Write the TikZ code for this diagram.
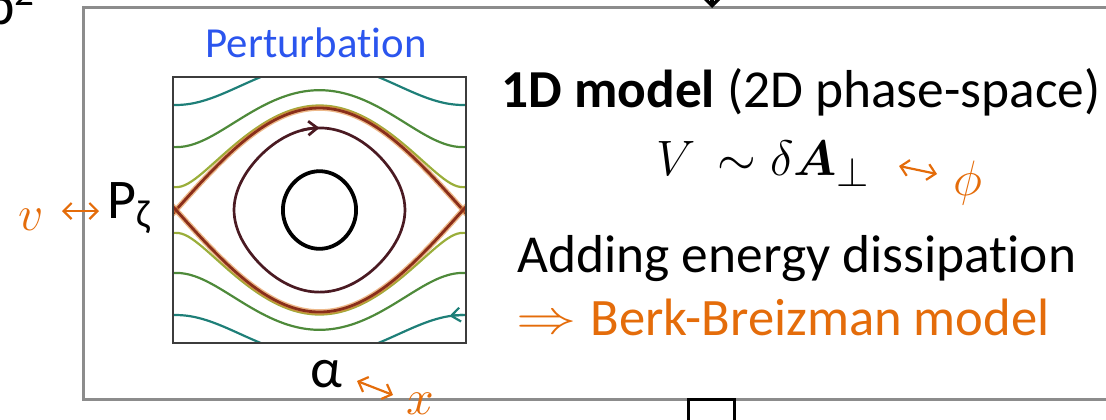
\documentclass[tikz,border=0pt]{standalone}
\usepackage{amsmath}
\usepackage{graphicx}
\usepackage{fontspec}
\setmainfont{Carlito}[Ligatures=NoCommon]
\usepackage{tikz}
\usetikzlibrary{arrows.meta, positioning, calc}
\definecolor{cFrame}{HTML}{8C8C8C}
\definecolor{cBox}{HTML}{3C3C3C}
\definecolor{cOrange}{HTML}{E46C0A}
\definecolor{cBlue}{HTML}{2B55EE}
\definecolor{cSep}{HTML}{8A2E1A}
\definecolor{cSepGlow}{HTML}{E0883A}
\definecolor{cOrbit}{HTML}{4A1A22}
\definecolor{cGreen}{HTML}{4E8A3A}
\definecolor{cYell}{HTML}{9AAE3A}
\definecolor{cTeal}{HTML}{1E7F78}
\tikzstyle{slideframe} = [draw=cFrame, line width=1.5pt]
\tikzstyle{plotbox}    = [draw=cBox, line width=1.1pt]
\tikzstyle{sepx}       = [draw=cSep, line width=1.4pt, preaction={draw=cSepGlow, line width=2.8pt, opacity=0.6}]
\tikzstyle{orbitline}  = [draw=cOrbit, line width=1.35pt]
\tikzstyle{coreline}   = [draw=black, line width=1.9pt]
\tikzstyle{passing}    = [line width=1.1pt]
\tikzstyle{flowtip}    = [-{Straight Barb[length=4.5pt,width=7pt]}]
\tikzstyle{lbl}        = [inner sep=0pt, font=\fontsize{28}{30}\selectfont]
\tikzstyle{olbl}       = [lbl, text=cOrange]
\tikzstyle{txt}        = [inner sep=0pt, font=\fontsize{26.7}{30}\selectfont]
\tikzstyle{orarrow}    = [draw=cOrange, line width=1.1pt, {Straight Barb[length=4pt,width=8pt]}-{Straight Barb[length=4pt,width=8pt]}]
\newcommand{\pcx}{319.5}
\newcommand{\pcy}{210}

\begin{document}
\begin{tikzpicture}[x=0.5pt, y=-0.5pt]
\useasboundingbox (0,0) rectangle (1106,419);
\clip (0,0) rectangle (1106,419);

% slide frame and neighbours
\draw [slideframe] (83,7) rectangle (1160,399);
\coordinate (in-top) at (712,-60);
\coordinate (fr-top) at (712,8);
\draw [line width=1.6pt, -{Straight Barb[length=5pt,width=10pt]}] (in-top) -- (fr-top);
\node (nextbox) [draw=black, line width=1.6pt, minimum width=23pt, minimum height=40pt, inner sep=0pt, anchor=north] at (711.5,398) {};
\node (bsq) [lbl, anchor=base east] at (36,24) {b\textsuperscript{2}};

% phase-space plot
\coordinate (ps-tl) at (173,77);
\coordinate (ps-br) at (466,343);
\begin{scope}
\clip (ps-tl) rectangle (ps-br);
\foreach \E/\col in {1.10/cYell, 1.76/cGreen, 3.12/cTeal} {
  \draw [passing, draw=\col] plot[domain=-190:190, samples=90, smooth] ({\pcx+0.7972*\x}, {\pcy-51*sqrt(2*(\E+cos(\x)))});
  \draw [passing, draw=\col] plot[domain=-190:190, samples=90, smooth] ({\pcx+0.7972*\x}, {\pcy+51*sqrt(2*(\E+cos(\x)))});
}
\draw [passing, draw=cTeal, flowtip] plot[domain=180:163, samples=6] ({\pcx+0.7972*\x}, {\pcy+51*sqrt(2*(3.12+cos(\x)))});
\draw [sepx] plot[domain=-188:188, samples=100, smooth] ({\pcx+0.7972*\x}, {\pcy-102*cos(\x/2)});
\draw [sepx] plot[domain=-188:188, samples=100, smooth] ({\pcx+0.7972*\x}, {\pcy+102*cos(\x/2)});
\draw [orbitline] plot[domain=-180:180, samples=120, smooth] ({\pcx+0.7972*2*asin(0.805*sin(\x))}, {\pcy-82.1*cos(\x)}) -- cycle;
\draw [orbitline, flowtip] plot[domain=-14:0, samples=6] ({\pcx+0.7972*2*asin(0.805*sin(\x))}, {\pcy-82.1*cos(\x)});
\draw [coreline] plot[domain=0:360, samples=80, smooth] ({\pcx+0.7972*2*asin(0.39*sin(\x))}, {\pcy-38.8*cos(\x)}) -- cycle;
\end{scope}
\draw [plotbox] (ps-tl) rectangle (ps-br);

% axis labels
\node (pert) [inner sep=0pt, font=\fontsize{21.4}{24}\selectfont, text=cBlue, anchor=base] at (316,57) {Perturbation};
\node (pz) [lbl, anchor=base west] at (107,218) {P$_{\text{ζ}}$};
\node (vv) [olbl, anchor=base] at (31,230) {$v$};
\node (alpha) [lbl, anchor=base] at (326,387) {α};
\node (xv) [olbl] at (420,404) {$x$};
\coordinate (vP-a) at (62,211);
\coordinate (vP-b) at (99,211);
\coordinate (ax-a) at (357,381);
\coordinate (ax-b) at (393,395);
\draw [orarrow] (vP-a) -- (vP-b);
\draw [orarrow] (ax-a) -- (ax-b);

% model text
\node (title) [txt, anchor=base west] at (501,107) {\textbf{1D model} (2D phase-space)};
\node (pot) [txt, font=\fontsize{28}{30}\selectfont, anchor=base west] at (656,175) {$V\mkern3mu\sim\delta\boldsymbol{A}_{\perp}$};
\node (phi) [olbl] at (968,183) {$\phi$};
\coordinate (Ap-a) at (899,166);
\coordinate (Ap-b) at (937,174);
\draw [orarrow] (Ap-a) -- (Ap-b);
\node (diss) [txt, anchor=base west] at (517,272) {Adding energy dissipation};
\node (bb) [txt, font=\fontsize{26.3}{30}\selectfont, text=cOrange, anchor=base west] at (516,335) {\raisebox{1pt}{\fontsize{22.5}{24}\selectfont\scalebox{1.45}[1.15]{$\Rightarrow$}}\hspace{7pt}Berk-Breizman model};
\end{tikzpicture}
\end{document}
